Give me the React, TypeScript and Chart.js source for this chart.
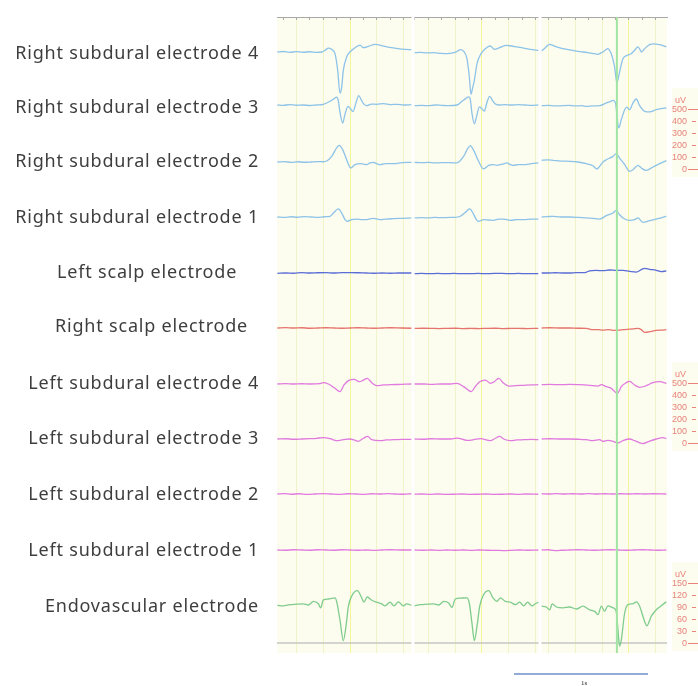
import { useEffect, useRef } from "react";
import { Chart, registerables } from "chart.js";

Chart.register(...registerables);

// ---------- labels ----------
const TRACE_LABELS = [
  "Right subdural electrode 4",
  "Right subdural electrode 3",
  "Right subdural electrode 2",
  "Right subdural electrode 1",
  "Left scalp electrode",
  "Right scalp electrode",
  "Left subdural electrode 4",
  "Left subdural electrode 3",
  "Left subdural electrode 2",
  "Left subdural electrode 1",
  "Endovascular electrode",
];
// trailing spaces so that the two scalp labels sit further left, as in the figure
const LABEL_TRAIL = [0, 0, 0, 0, 4, 2, 0, 0, 0, 0, 0];

// ---------- time windows of the three epochs (s) ----------
const PANEL_MIN = [0.455, 0.485, 0.336];
const PANEL_MAX = [1.47, 1.433, 1.284];
const CURSOR_T = 0.91; // green cursor, third epoch
const SCALEBAR_END = 1.142; // 1 s bar, third epoch time base

// ---------- calibration markers ----------
const CAL_TOP = [500, 500, 150];
const CAL_STEP = [100, 100, 30];

// ---------- signals: [time s, amplitude uV] ----------
const RS4_P1: [number, number][] = [[0.458,0],[0.5,4],[0.55,-3],[0.6,3],[0.65,-2],[0.7,2],[0.75,-3],[0.79,0],[0.815,14],[0.838,33],[0.862,22],[0.888,-14],[0.908,-153],[0.925,-342],[0.938,-292],[0.95,-153],[0.975,-42],[1.007,8],[1.037,36],[1.075,58],[1.099,36],[1.137,47],[1.187,64],[1.261,47],[1.31,36],[1.358,28],[1.41,22],[1.46,19]];
const RS4_P2: [number, number][] = [[0.495,-6],[0.54,-3],[0.59,-8],[0.64,-6],[0.69,-11],[0.74,-14],[0.79,-6],[0.815,6],[0.838,19],[0.862,8],[0.888,-56],[0.905,-200],[0.918,-353],[0.93,-300],[0.943,-236],[0.963,-97],[0.993,-14],[1.025,28],[1.062,50],[1.092,22],[1.132,36],[1.182,56],[1.22,50],[1.261,42],[1.31,33],[1.361,22],[1.423,14]];
const RS4_P3: [number, number][] = [[0.346,8],[0.37,30],[0.39,52],[0.408,64],[0.43,56],[0.46,42],[0.507,28],[0.557,17],[0.607,8],[0.66,0],[0.706,-8],[0.74,-14],[0.769,-19],[0.79,-8],[0.806,0],[0.825,17],[0.843,28],[0.855,14],[0.868,-14],[0.88,-60],[0.893,-125],[0.91,-259],[0.92,-220],[0.93,-167],[0.955,-56],[0.985,-28],[1.017,-14],[1.042,14],[1.067,42],[1.08,25],[1.092,0],[1.117,28],[1.154,61],[1.185,67],[1.216,64],[1.25,56],[1.279,42]];

const RS3_P1: [number, number][] = [[0.458,0],[0.5,-3],[0.55,3],[0.6,-2],[0.65,0],[0.7,-4],[0.75,0],[0.801,6],[0.851,31],[0.885,55],[0.9,66],[0.912,40],[0.925,-60],[0.945,-150],[0.962,-80],[0.985,-12],[1.003,-30],[1.022,-55],[1.045,20],[1.065,78],[1.085,40],[1.105,5],[1.124,-5],[1.16,8],[1.2,6],[1.25,11],[1.3,3],[1.35,6],[1.4,0],[1.46,3]];
const RS3_P2: [number, number][] = [[0.495,-6],[0.55,-3],[0.6,-6],[0.65,0],[0.7,-3],[0.75,-6],[0.813,0],[0.851,31],[0.88,55],[0.9,67],[0.913,44],[0.925,-67],[0.943,-156],[0.96,-95],[0.98,-15],[0.998,-30],[1.017,-50],[1.038,25],[1.057,72],[1.08,35],[1.1,8],[1.125,0],[1.17,3],[1.22,0],[1.27,3],[1.32,0],[1.37,-3],[1.423,0]];
const RS3_P3: [number, number][] = [[0.346,-6],[0.4,-3],[0.45,-8],[0.5,-6],[0.55,-3],[0.6,-8],[0.65,-6],[0.682,-11],[0.73,-8],[0.781,-6],[0.831,17],[0.86,28],[0.881,39],[0.9,17],[0.91,-80],[0.923,-191],[0.943,-122],[0.968,-39],[0.985,-17],[1.005,-39],[1.03,17],[1.055,50],[1.08,-6],[1.117,-53],[1.154,-58],[1.204,-39],[1.24,-30],[1.279,-25]];

const RS2_P1: [number, number][] = [[0.458,0],[0.51,3],[0.56,-3],[0.61,2],[0.66,-2],[0.71,0],[0.76,3],[0.8,2],[0.826,8],[0.863,47],[0.9,117],[0.92,139],[0.945,103],[0.975,19],[1.005,-50],[1.037,-22],[1.075,-14],[1.1,-17],[1.124,-22],[1.15,-8],[1.174,-3],[1.2,-14],[1.224,-22],[1.27,-14],[1.323,-14],[1.39,-6],[1.46,-3]];
const RS2_P2: [number, number][] = [[0.495,-3],[0.55,-6],[0.6,-3],[0.65,-8],[0.7,-6],[0.76,-6],[0.813,-8],[0.863,47],[0.893,111],[0.913,136],[0.938,97],[0.975,6],[1.012,-58],[1.05,-28],[1.087,-22],[1.11,-28],[1.137,-22],[1.165,-14],[1.187,-8],[1.211,-22],[1.236,-28],[1.27,-22],[1.311,-22],[1.37,-14],[1.423,-8]];
const RS2_P3: [number, number][] = [[0.346,14],[0.39,17],[0.433,14],[0.49,8],[0.557,6],[0.62,0],[0.682,-14],[0.731,-31],[0.761,-58],[0.781,-36],[0.806,0],[0.831,19],[0.881,47],[0.905,70],[0.93,33],[0.968,-22],[1.005,-78],[1.03,-64],[1.067,-28],[1.092,-50],[1.129,-70],[1.179,-42],[1.229,-14],[1.279,11]];

const RS1_P1: [number, number][] = [[0.458,0],[0.51,-3],[0.56,2],[0.61,-2],[0.66,3],[0.71,0],[0.76,-3],[0.81,2],[0.851,6],[0.876,33],[0.913,67],[0.938,33],[0.963,-22],[0.98,-36],[1.012,-22],[1.05,-17],[1.09,-22],[1.124,-22],[1.174,-11],[1.224,-22],[1.27,-17],[1.323,-14],[1.39,-11],[1.46,-8]];
const RS1_P2: [number, number][] = [[0.495,-8],[0.55,-6],[0.6,-8],[0.65,-3],[0.7,-6],[0.76,-3],[0.8,-3],[0.838,6],[0.876,39],[0.908,67],[0.933,33],[0.958,-22],[0.975,-36],[1.012,-22],[1.05,-25],[1.087,-28],[1.125,-17],[1.162,-17],[1.211,-28],[1.26,-22],[1.311,-22],[1.37,-17],[1.423,-17]];
const RS1_P3: [number, number][] = [[0.346,0],[0.39,3],[0.433,6],[0.49,0],[0.557,0],[0.62,-3],[0.682,-8],[0.73,-11],[0.781,-17],[0.831,11],[0.881,33],[0.905,56],[0.93,19],[0.968,-17],[1.005,-28],[1.042,-22],[1.067,-8],[1.104,-44],[1.154,-31],[1.216,-14],[1.279,6]];

const LSC_P1: [number, number][] = [[0.458,-3],[0.52,0],[0.58,-2],[0.64,3],[0.7,0],[0.76,2],[0.82,3],[0.88,0],[0.94,3],[1.0,3],[1.06,2],[1.12,0],[1.18,-2],[1.24,0],[1.3,-2],[1.36,0],[1.46,0]];
const LSC_P2: [number, number][] = [[0.495,-6],[0.55,-3],[0.61,-6],[0.67,-3],[0.73,-6],[0.79,-3],[0.85,-6],[0.91,-6],[0.97,-3],[1.03,-6],[1.09,-3],[1.15,-3],[1.21,-6],[1.27,-3],[1.33,-6],[1.423,-6]];
const LSC_P3: [number, number][] = [[0.346,0],[0.4,0],[0.45,2],[0.507,0],[0.557,0],[0.607,3],[0.657,3],[0.685,8],[0.706,17],[0.756,22],[0.806,19],[0.856,25],[0.905,22],[0.955,22],[1.005,14],[1.055,8],[1.092,28],[1.117,39],[1.154,31],[1.204,22],[1.241,11],[1.279,17]];

const RSC_P1: [number, number][] = [[0.458,0],[0.52,3],[0.58,0],[0.64,2],[0.7,-2],[0.76,0],[0.82,2],[0.88,0],[0.94,-2],[1.0,0],[1.06,2],[1.12,0],[1.18,-2],[1.24,0],[1.3,2],[1.38,0],[1.46,-2]];
const RSC_P2: [number, number][] = [[0.495,-3],[0.56,-2],[0.62,-3],[0.68,-5],[0.74,-3],[0.8,-2],[0.86,-5],[0.92,-3],[0.98,-5],[1.04,-3],[1.1,-2],[1.16,-5],[1.22,-3],[1.28,-3],[1.34,-5],[1.423,-3]];
const RSC_P3: [number, number][] = [[0.346,0],[0.41,2],[0.48,0],[0.557,0],[0.62,-2],[0.682,-3],[0.731,-14],[0.77,-14],[0.806,-17],[0.845,-14],[0.881,-19],[0.92,-17],[0.955,-14],[0.99,-11],[1.03,-8],[1.067,-3],[1.092,-14],[1.117,-36],[1.154,-31],[1.204,-19],[1.24,-17],[1.279,-14]];

const LS4_P1: [number, number][] = [[0.458,0],[0.52,3],[0.58,0],[0.64,2],[0.7,0],[0.776,3],[0.801,11],[0.838,0],[0.888,-36],[0.925,-64],[0.955,-8],[0.995,33],[1.03,39],[1.07,19],[1.1,33],[1.129,47],[1.162,11],[1.199,-14],[1.25,-8],[1.299,-6],[1.38,-3],[1.46,0]];
const LS4_P2: [number, number][] = [[0.495,0],[0.56,0],[0.62,-3],[0.7,0],[0.764,0],[0.813,6],[0.863,-22],[0.92,-64],[0.95,-22],[0.983,19],[1.025,33],[1.062,6],[1.092,19],[1.124,47],[1.162,6],[1.199,-17],[1.25,-14],[1.311,-11],[1.37,-8],[1.423,-6]];
const LS4_P3: [number, number][] = [[0.346,-6],[0.41,-3],[0.48,-6],[0.557,-3],[0.63,-6],[0.706,-11],[0.769,-17],[0.794,-6],[0.831,-22],[0.868,-36],[0.913,-78],[0.943,-22],[0.98,11],[1.005,22],[1.042,-8],[1.08,-28],[1.129,-14],[1.179,11],[1.229,19],[1.279,6]];

const LS3_P1: [number, number][] = [[0.458,0],[0.52,2],[0.58,-2],[0.64,0],[0.701,3],[0.75,6],[0.801,11],[0.851,3],[0.9,-14],[0.95,-6],[1.0,0],[1.03,-8],[1.062,-19],[1.1,6],[1.132,22],[1.162,-6],[1.224,-14],[1.27,-8],[1.323,-6],[1.39,-3],[1.46,-3]];
const LS3_P2: [number, number][] = [[0.495,0],[0.56,-2],[0.62,2],[0.69,0],[0.764,0],[0.813,8],[0.888,-11],[0.938,-6],[0.988,3],[1.062,-14],[1.1,6],[1.132,22],[1.162,0],[1.211,-14],[1.26,-8],[1.311,-6],[1.37,-3],[1.423,-6]];
const LS3_P3: [number, number][] = [[0.346,0],[0.41,2],[0.48,0],[0.557,0],[0.62,-2],[0.682,-6],[0.731,-14],[0.781,-6],[0.806,-19],[0.843,-11],[0.881,-19],[0.918,-33],[0.955,-14],[1.005,0],[1.042,-14],[1.104,-39],[1.154,-17],[1.204,0],[1.254,11],[1.279,3]];

const LS2_P1: [number, number][] = [[0.458,0],[0.51,3],[0.56,-2],[0.62,2],[0.68,-3],[0.74,0],[0.8,3],[0.86,0],[0.92,-3],[0.98,2],[1.04,0],[1.1,-3],[1.16,2],[1.22,0],[1.28,3],[1.34,0],[1.4,-2],[1.46,2]];
const LS2_P2: [number, number][] = [[0.495,-2],[0.55,0],[0.61,-3],[0.67,0],[0.73,-3],[0.79,-2],[0.85,0],[0.91,-3],[0.97,-2],[1.03,0],[1.09,-3],[1.15,-2],[1.21,0],[1.27,-3],[1.33,0],[1.423,-2]];
const LS2_P3: [number, number][] = [[0.346,2],[0.4,0],[0.46,3],[0.52,0],[0.58,2],[0.64,0],[0.7,3],[0.76,0],[0.82,2],[0.88,0],[0.94,2],[1.0,0],[1.06,2],[1.12,0],[1.18,2],[1.279,0]];

const LS1_P1: [number, number][] = [[0.458,0],[0.52,-2],[0.58,2],[0.64,0],[0.7,-2],[0.76,2],[0.82,0],[0.88,-2],[0.94,2],[1.0,0],[1.06,-2],[1.12,0],[1.18,-3],[1.24,0],[1.3,2],[1.38,0],[1.46,0]];
const LS1_P2: [number, number][] = [[0.495,0],[0.56,-2],[0.62,0],[0.68,-3],[0.74,0],[0.8,-2],[0.86,0],[0.92,-3],[0.98,0],[1.04,-2],[1.1,-3],[1.16,-5],[1.22,-3],[1.28,0],[1.34,-2],[1.423,0]];
const LS1_P3: [number, number][] = [[0.346,0],[0.4,2],[0.43,-3],[0.46,-6],[0.5,-2],[0.56,0],[0.62,2],[0.68,0],[0.74,-2],[0.8,0],[0.86,2],[0.92,0],[0.98,-2],[1.04,0],[1.1,2],[1.16,0],[1.22,-2],[1.279,0]];

const ENDO_P1: [number, number][] = [[0.458,94],[0.502,93],[0.552,96],[0.602,97],[0.652,98],[0.689,95],[0.726,104],[0.764,98],[0.781,88],[0.801,108],[0.838,110],[0.888,113],[0.9,104],[0.925,58],[0.95,6],[0.97,42],[0.988,92],[1.012,117],[1.055,131],[1.087,113],[1.104,102],[1.129,115],[1.162,107],[1.199,102],[1.236,98],[1.261,93],[1.299,102],[1.328,93],[1.361,103],[1.398,93],[1.423,98],[1.46,94]];
const ENDO_P2: [number, number][] = [[0.495,93],[0.54,96],[0.59,97],[0.639,98],[0.677,95],[0.714,104],[0.751,100],[0.776,89],[0.801,110],[0.838,112],[0.888,113],[0.905,100],[0.925,50],[0.943,6],[0.963,42],[0.983,92],[1.012,121],[1.05,131],[1.082,113],[1.112,104],[1.137,113],[1.174,104],[1.211,102],[1.249,96],[1.281,102],[1.311,93],[1.341,102],[1.373,93],[1.398,98],[1.423,102]];
const ENDO_P3: [number, number][] = [[0.346,92],[0.383,90],[0.408,83],[0.428,98],[0.458,90],[0.507,88],[0.557,90],[0.607,85],[0.657,92],[0.706,83],[0.744,79],[0.769,71],[0.794,92],[0.818,79],[0.843,93],[0.881,88],[0.905,79],[0.918,33],[0.93,-8],[0.943,8],[0.968,75],[0.993,96],[1.03,98],[1.055,103],[1.08,92],[1.104,67],[1.134,43],[1.167,67],[1.204,83],[1.241,93],[1.279,103]];

// ---------- montage layout (display units, top = 0) ----------
const TRACE_ZERO = [35, 88, 145, 200, 256, 311, 367, 422, 477, 533, 626];
const LABEL_POS = [37, 91, 145, 201, 256, 310, 367, 422, 478, 534, 590];
const TRACE_GAIN = [0.12, 0.12, 0.12, 0.12, 0.12, 0.12, 0.12, 0.12, 0.12, 0.12, 0.4];
const CAL_ZERO = [152, 426, 626];
const CAL_GAIN = [0.12, 0.12, 0.4];
const Y_RANGE = 636;

// ---------- styles ----------
const C_RS = "#8dc3e8";
const C_LSC = "#5a6cd6";
const C_RSC = "#e6736c";
const C_LS = "#e07ade";
const C_ENDO = "#7fcc8c";
const PANEL_BG = "#fcfcef";
const CAL_COLOR = "#e8837c";

const TRACE_SIGNALS = [
  [RS4_P1, RS4_P2, RS4_P3],
  [RS3_P1, RS3_P2, RS3_P3],
  [RS2_P1, RS2_P2, RS2_P3],
  [RS1_P1, RS1_P2, RS1_P3],
  [LSC_P1, LSC_P2, LSC_P3],
  [RSC_P1, RSC_P2, RSC_P3],
  [LS4_P1, LS4_P2, LS4_P3],
  [LS3_P1, LS3_P2, LS3_P3],
  [LS2_P1, LS2_P2, LS2_P3],
  [LS1_P1, LS1_P2, LS1_P3],
  [ENDO_P1, ENDO_P2, ENDO_P3],
];
const TRACE_COLORS = [C_RS, C_RS, C_RS, C_RS, C_LSC, C_RSC, C_LS, C_LS, C_LS, C_LS, C_ENDO];
const X_IDS = ["x1", "x2", "x3"];

const eegPlugin = {
  id: "eegDecor",
  beforeDraw(chart: any) {
    const { ctx, chartArea } = chart;
    ctx.save();
    ctx.fillStyle = "#ffffff";
    ctx.fillRect(0, 0, chart.width, chart.height);
    ctx.fillStyle = PANEL_BG;
    for (const id of X_IDS) {
      const s = chart.scales[id];
      ctx.fillRect(s.left, chartArea.top, s.right - s.left, chartArea.bottom - chartArea.top);
    }
    ctx.restore();
    ctx.letterSpacing = "0.8px";
  },
  afterDatasetsDraw(chart: any) {
    const { ctx, chartArea } = chart;
    ctx.save();
    // cursor
    const xc = chart.scales.x3.getPixelForValue(CURSOR_T);
    ctx.strokeStyle = "#a2e4a2";
    ctx.lineWidth = 2;
    ctx.beginPath();
    ctx.moveTo(xc, chartArea.top);
    ctx.lineTo(xc, chartArea.bottom);
    ctx.stroke();
    // epoch separators
    ctx.fillStyle = "#ffffff";
    for (let i = 0; i < X_IDS.length - 1; i++) {
      const s = chart.scales[X_IDS[i]];
      ctx.fillRect(s.right - 1.5, chartArea.top - 6, 3, chartArea.bottom - chartArea.top + 8);
    }
    ctx.restore();
  },
  afterDraw(chart: any) {
    const { ctx, chartArea } = chart;
    const y = chart.scales.y;
    ctx.save();
    ctx.letterSpacing = "0px";
    // calibration boxes
    for (let i = 0; i < CAL_ZERO.length; i++) {
      const z = y.getPixelForValue(CAL_ZERO[i]);
      const top = y.getPixelForValue(CAL_ZERO[i] - CAL_TOP[i] * CAL_GAIN[i]);
      const bx = chartArea.right + 5;
      ctx.fillStyle = PANEL_BG;
      ctx.fillRect(bx, top - 21, chart.width - bx, z - top + 29);
      ctx.fillStyle = CAL_COLOR;
      ctx.strokeStyle = CAL_COLOR;
      ctx.lineWidth = 1;
      ctx.font = "9px 'Liberation Sans'";
      ctx.textAlign = "right";
      ctx.textBaseline = "middle";
      ctx.fillText("uV", bx + 14, top - 8);
      for (let v = 0; v <= CAL_TOP[i]; v += CAL_STEP[i]) {
        const py = Math.round(y.getPixelForValue(CAL_ZERO[i] - v * CAL_GAIN[i])) + 0.5;
        ctx.fillText(String(v), bx + 15, py);
        const major = v === 0 || v === CAL_TOP[i];
        ctx.beginPath();
        ctx.moveTo(major ? bx + 16 : bx + 20, py);
        ctx.lineTo(major ? chart.width : bx + 24, py);
        ctx.stroke();
      }
    }
    // 1 s scale bar
    const x3 = chart.scales.x3;
    const xa = x3.getPixelForValue(SCALEBAR_END - 1);
    const xb = x3.getPixelForValue(SCALEBAR_END);
    const yb = chartArea.bottom + 21;
    ctx.strokeStyle = "#6f8fc9";
    ctx.lineWidth = 1.5;
    ctx.beginPath();
    ctx.moveTo(xa, yb);
    ctx.lineTo(xb, yb);
    ctx.stroke();
    ctx.fillStyle = "#222";
    ctx.font = "7px 'Liberation Serif'";
    ctx.textAlign = "center";
    ctx.textBaseline = "middle";
    ctx.fillText("1s", (xa + xb) / 2 + 3, yb + 9);
    ctx.restore();
  },
};

function xAxis(i: number) {
  return {
    type: "linear",
    position: "top",
    stack: "epochs",
    stackWeight: PANEL_MAX[i] - PANEL_MIN[i],
    weight: 10 - i,
    min: PANEL_MIN[i],
    max: PANEL_MAX[i],
    afterFit: (s: any) => {
      s.height = 1;
    },
    ticks: { display: false, stepSize: 0.1, includeBounds: false },
    grid: {
      drawTicks: true,
      tickLength: -3,
      tickColor: "#a8a8a8",
      lineWidth: 1,
      color: (c: any) => {
        const v = c.tick ? c.tick.value : 0;
        if (Math.abs(v - 1) < 1e-6) return "#f4f49a";
        if (Math.abs(v * 5 - Math.round(v * 5)) < 1e-6) return "#f3f3c8";
        return "rgba(0,0,0,0)";
      },
    },
    border: { display: true, color: "#a8a8a8", width: 1 },
  };
}

export default function App() {
  const ref = useRef<HTMLCanvasElement | null>(null);
  useEffect(() => {
    document.body.style.margin = "0";
    if (!ref.current) return;
    const datasets: any[] = [];
    TRACE_SIGNALS.forEach((panels, r) => {
      panels.forEach((pts, p) => {
        datasets.push({
          label: TRACE_LABELS[r],
          xAxisID: X_IDS[p],
          yAxisID: "y",
          data: pts.map(([t, v]) => ({ x: t, y: TRACE_ZERO[r] - v * TRACE_GAIN[r] })),
          borderColor: TRACE_COLORS[r],
          borderWidth: 1.3,
          pointRadius: 0,
          cubicInterpolationMode: "monotone",
          fill: false,
        });
      });
    });
    // endovascular zero reference lines
    X_IDS.forEach((id, p) => {
      datasets.push({
        label: "0 uV",
        xAxisID: id,
        yAxisID: "y",
        data: [
          { x: PANEL_MIN[p], y: TRACE_ZERO[10] },
          { x: PANEL_MAX[p], y: TRACE_ZERO[10] },
        ],
        borderColor: "#c6c6c6",
        borderWidth: 1.5,
        pointRadius: 0,
        fill: false,
      });
    });

    const chart = new Chart(ref.current, {
      type: "line",
      data: { datasets },
      options: {
        animation: false,
        responsive: false,
        events: [],
        layout: { padding: { top: 16, right: 31, bottom: 33, left: 0 } },
        plugins: { legend: { display: false }, tooltip: { enabled: false } },
        scales: {
          x1: xAxis(0),
          x2: xAxis(1),
          x3: xAxis(2),
          y: {
            type: "linear",
            position: "left",
            reverse: true,
            min: 0,
            max: Y_RANGE,
            afterFit: (s: any) => {
              s.width = 277;
              s.paddingTop = 0;
              s.paddingBottom = 0;
            },
            afterBuildTicks: (s: any) => {
              s.ticks = LABEL_POS.map((v) => ({ value: v }));
            },
            ticks: {
              autoSkip: false,
              padding: 18,
              color: "#3e3e3e",
              font: { family: "'Noto Sans', sans-serif", size: 18 },
              callback: (_v: any, i: number) => TRACE_LABELS[i] + " ".repeat(LABEL_TRAIL[i]),
            },
            grid: { display: false, drawTicks: false },
            border: { display: false },
          },
        } as any,
      },
      plugins: [eegPlugin],
    } as any);
    return () => chart.destroy();
  }, []);
  return (
    <div style={{ width: 698, height: 686 }}>
      <canvas ref={ref} width={698} height={686} />
    </div>
  );
}
